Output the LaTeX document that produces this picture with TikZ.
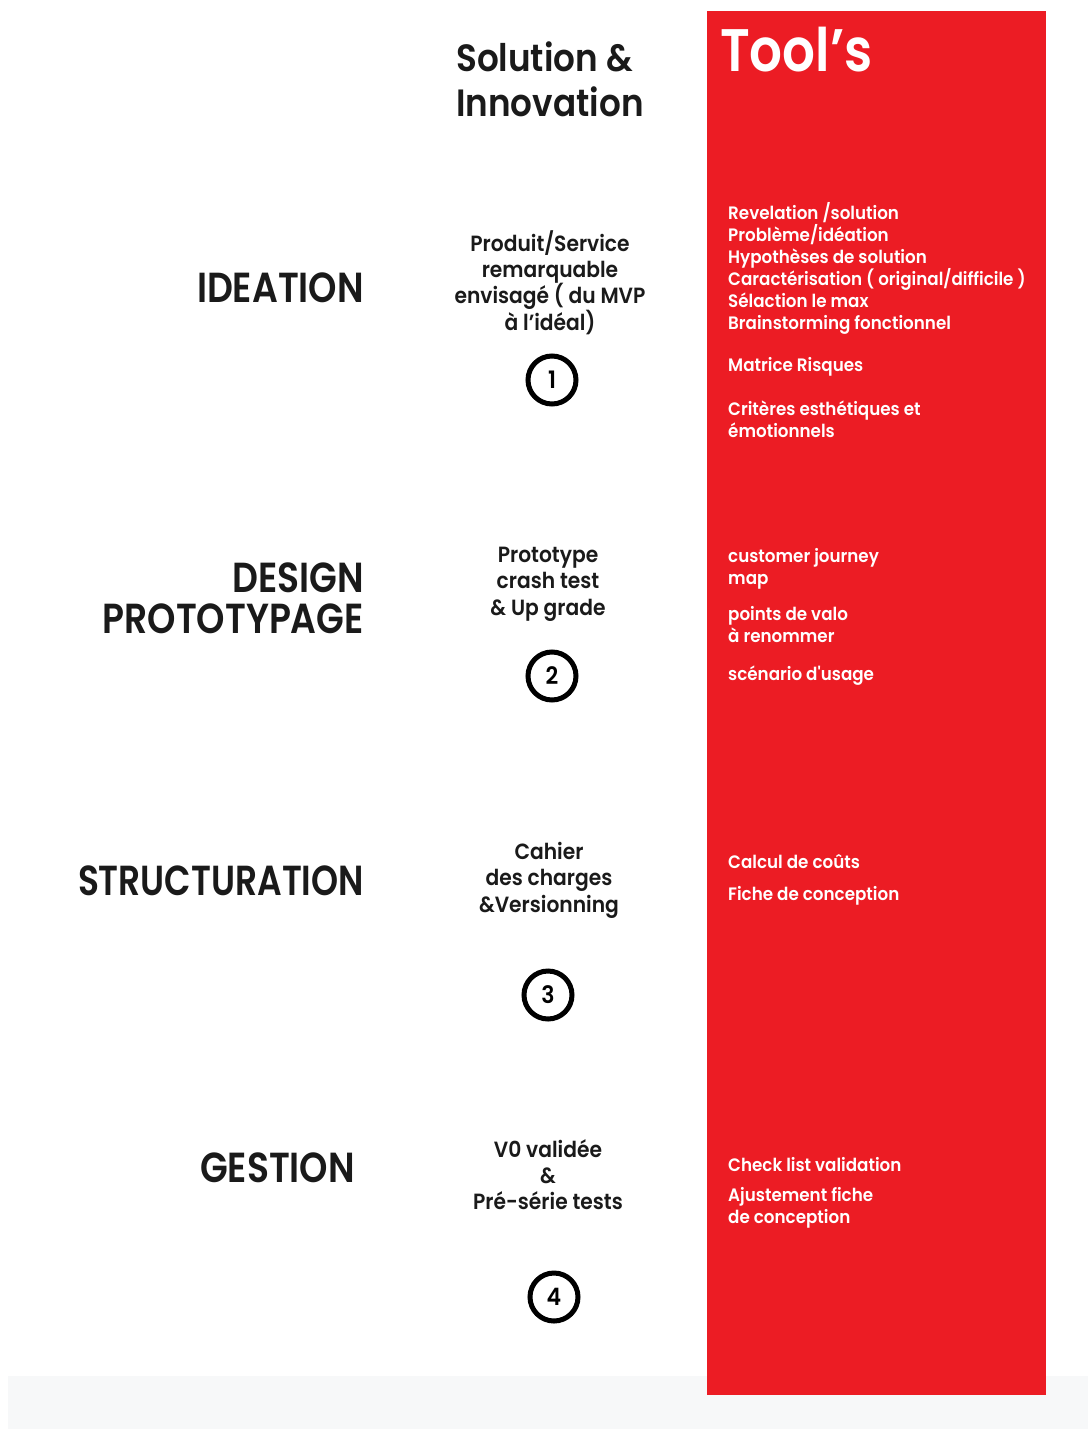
\documentclass[tikz,border=0pt]{standalone}
\usepackage{fontspec}
\setmainfont{Poppins}
\newfontfamily\popm{Poppins}[UprightFont={* SemiBold}, FakeStretch=0.93]
\newfontfamily\popmid{Poppins}[UprightFont={* SemiBold}, FakeStretch=0.92]
\newfontfamily\pophead{Poppins}[UprightFont={* SemiBold}, FakeStretch=0.86]
\newfontfamily\popnarrow{Poppins}[UprightFont={* SemiBold}, FakeStretch=0.82]
\newfontfamily\poptitle{Poppins}[UprightFont={* SemiBold}, FakeStretch=0.9]
\definecolor{toolred}{HTML}{EC1C24}
\definecolor{inkdark}{HTML}{1A1A1A}
\definecolor{bandgray}{HTML}{F7F8F9}
\tikzset{
  phase/.style={anchor=east, inner sep=0pt, text=inkdark, font=\pophead\fontsize{42}{41}\selectfont, align=right},
  midtext/.style={anchor=north, inner sep=0pt, text=inkdark, font=\popmid\fontsize{22}{26.3}\selectfont, align=center},
  tooltext/.style={anchor=north west, inner sep=0pt, text=white, font=\popm\fontsize{18}{22}\selectfont, align=left},
  stepnum/.style={circle, draw=black, line width=5pt, minimum size=48pt, inner sep=0pt, text=black, font=\popmid\fontsize{24}{24}\selectfont}
}
\begin{document}
\begin{tikzpicture}[x=1pt,y=-1pt]
\useasboundingbox (0,0) rectangle (1088,1429);
\fill[white] (0,0) rectangle (1088,1429);
\fill[bandgray] (8,1376) rectangle (1088,1429);
\fill[toolred] (707,11) rectangle (1046,1395);
% headers
\node[anchor=west, inner sep=0pt, text=white, font=\pophead\fontsize{60}{60}\selectfont] (tools) at (720,50) {Tool’s};
\node[anchor=north west, inner sep=0pt, text=inkdark, font=\poptitle\fontsize{38}{45}\selectfont, align=left] (solinno) at (456,42) {Solution \&\\Innovation};
% phases
\node[phase] (ideation) at (364,288) {IDEATION};
\node[phase] (design) at (364,598) {DESIGN\\PROTOTYPAGE};
\node[phase, font=\popnarrow\fontsize{42}{41}\selectfont] (struct) at (364,881) {STRUCTURATION};
\node[phase] (gestion) at (355,1168) {GESTION};
% middle texts
\node[midtext] (m1) at (550,230) {Produit/Service\\remarquable\\envisagé ( du MVP\\à l’idéal)};
\node[midtext] (m2) at (548,547) {Prototype\\crash test\\\& Up grade};
\node[midtext] (m3) at (549,842) {Cahier\\des charges\\\&Versionning};
\node[midtext] (m4) at (548,1139) {V0 validée\\\&\\Pré-série tests};
% step circles
\node[stepnum] (s1) at (552,380) {1};
\node[stepnum] (s2) at (552,676) {2};
\node[stepnum] (s3) at (548,995) {3};
\node[stepnum] (s4) at (554,1297) {4};
% tools
\node[tooltext] (t1a) at (728,202) {Revelation /solution\\Problème/idéation\\Hypothèses de solution\\Caractérisation ( original/difficile )\\Sélaction le max\\Brainstorming fonctionnel};
\node[tooltext] (t1b) at (728,357) {Matrice Risques};
\node[tooltext] (t1c) at (728,401) {Critères esthétiques et\\émotionnels};
\node[tooltext] (t2a) at (728,548) {customer journey\\map};
\node[tooltext] (t2b) at (728,606) {points de valo\\à renommer};
\node[tooltext] (t2c) at (728,666) {scénario d'usage};
\node[tooltext] (t3a) at (728,854) {Calcul de coûts};
\node[tooltext] (t3b) at (728,886) {Fiche de conception};
\node[tooltext] (t4a) at (728,1157) {Check list validation};
\node[tooltext] (t4b) at (728,1187) {Ajustement fiche\\de conception};
\end{tikzpicture}
\end{document}
